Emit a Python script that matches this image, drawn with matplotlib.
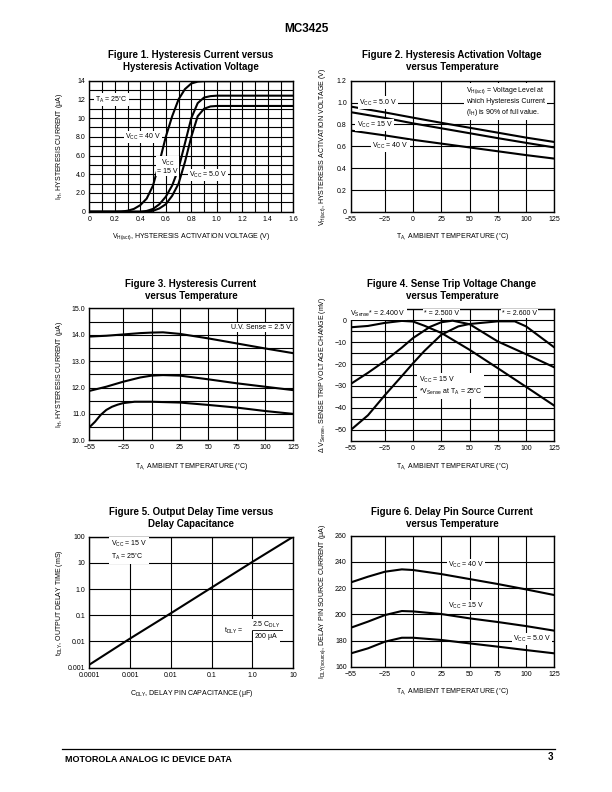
import matplotlib
matplotlib.use("Agg")
import matplotlib.pyplot as plt
from matplotlib.lines import Line2D
from matplotlib.ticker import FixedLocator

plt.rcParams['font.family'] = ['Liberation Sans', 'DejaVu Sans']
plt.rcParams['mathtext.fontset'] = 'custom'
plt.rcParams['mathtext.rm'] = 'Liberation Sans'
plt.rcParams['mathtext.it'] = 'Liberation Sans'
plt.rcParams['axes.unicode_minus'] = False

# ---------------- DATA ----------------
# Figure 1: hysteresis current vs activation voltage
f1_x40 = [0, 0.2, 0.25, 0.3, 0.35, 0.4, 0.45, 0.5, 0.55, 0.6, 0.65, 0.7, 0.75, 0.8, 0.85, 0.9, 1.0, 1.6]
f1_y40 = [0, 0, 0.02, 0.1, 0.3, 0.7, 1.4, 2.8, 5.3, 8.0, 10.2, 12.0, 13.1, 13.7, 13.9, 13.95, 13.95, 13.95]
f1_x15 = [0, 0.4, 0.45, 0.5, 0.55, 0.6, 0.65, 0.7, 0.75, 0.8, 0.85, 0.9, 0.95, 1.0, 1.6]
f1_y15 = [0, 0, 0.08, 0.3, 0.8, 1.6, 2.8, 4.6, 7.3, 10.0, 11.6, 12.2, 12.35, 12.4, 12.4]
f1_x5 = [0, 0.45, 0.5, 0.55, 0.6, 0.65, 0.7, 0.75, 0.8, 0.85, 0.9, 0.95, 1.0, 1.6]
f1_y5 = [0, 0, 0.1, 0.35, 0.8, 1.7, 3.0, 5.3, 8.0, 10.2, 11.0, 11.25, 11.3, 11.3]

# Shared temperature axis
temp = [-55, -25, 0, 25, 50, 75, 100, 125]

# Figure 2: activation voltage vs temperature
f2_v5 = [0.963, 0.91, 0.862, 0.815, 0.77, 0.725, 0.68, 0.64]
f2_v15 = [0.912, 0.86, 0.81, 0.765, 0.72, 0.675, 0.632, 0.59]
f2_v40 = [0.744, 0.70, 0.66, 0.625, 0.59, 0.555, 0.52, 0.488]

# Figure 3: hysteresis current vs temperature
f3_t_top = [-55, -40, -25, -10, 0, 10, 25, 50, 75, 100, 125]
f3_top = [13.93, 13.96, 14.01, 14.06, 14.08, 14.09, 14.03, 13.86, 13.67, 13.48, 13.30]
f3_t_mid = [-55, -40, -25, -10, 0, 10, 25, 50, 75, 100, 125]
f3_mid = [11.87, 12.03, 12.22, 12.38, 12.45, 12.47, 12.45, 12.31, 12.16, 12.03, 11.90]
f3_t_bot = [-55, -50, -45, -40, -35, -30, -25, -15, 0, 25, 50, 75, 100, 125]
f3_bot = [10.49, 10.70, 10.96, 11.15, 11.27, 11.35, 11.41, 11.46, 11.46, 11.43, 11.34, 11.24, 11.11, 11.00]

# Figure 4: sense trip voltage change vs temperature
f4_tA = [-55, -40, -25, -10, 0, 10, 25, 50, 75, 100, 125]
f4_A = [-3.2, -2.6, -1.2, -0.3, -0.6, -2.5, -5.8, -13.5, -21.9, -30.4, -39.0]
f4_tB = [-55, -40, -25, -10, 0, 15, 25, 35, 50, 75, 100, 125]
f4_B = [-29.0, -24.0, -18.6, -12.5, -8.1, -3.0, -0.9, -0.2, -1.8, -9.7, -15.5, -21.5]
f4_tC = [-55, -40, -25, -10, 0, 10, 25, 40, 50, 75, 90, 100, 112, 125]
f4_C = [-50.0, -43.4, -34.2, -25.5, -19.6, -14.0, -6.6, -2.8, -1.7, -0.5, -0.5, -2.8, -7.4, -12.4]

# Figure 5: output delay time vs delay capacitance (log-log)
f5_c = [0.0001, 0.001, 0.01, 0.1, 1.0, 10]
f5_t = [0.0013, 0.013, 0.12, 1.15, 11, 100]

# Figure 6: delay pin source current vs temperature
f6_t = [-55, -40, -25, -10, 0, 25, 50, 75, 100, 125]
f6_40 = [224.4, 228.7, 232.5, 234.3, 233.8, 230.7, 226.9, 223.1, 219.0, 214.7]
f6_15 = [189.8, 194.4, 199.4, 202.5, 202.2, 200.2, 196.9, 194.1, 191.0, 187.5]
f6_5 = [170.2, 174.0, 179.1, 182.1, 182.1, 180.4, 177.8, 175.3, 172.7, 170.2]

temp_ticks = [-55, -25, 0, 25, 50, 75, 100, 125]
temp_labels = ['\u221255', '\u221225', '0', '25', '50', '75', '100', '125']

# ---------------- FIGURE ----------------
W, H = 612, 792
fig = plt.figure(figsize=(W / 100, H / 100), dpi=100)

def make_axes(l, t, r, b):
    return fig.add_axes([l / W, 1 - b / H, (r - l) / W, (b - t) / H])

def style(ax, l, t, r, b, ylab_px, xlab_py):
    for s in ax.spines.values():
        s.set_linewidth(1.0)
        s.set_color('black')
    ax.tick_params(which='both', length=0, labelsize=5, pad=3)
    ax.grid(True, which='both', color='black', linewidth=0.8)
    ax.set_axisbelow(True)
    ax.yaxis.set_label_coords((ylab_px - l) / (r - l), 0.5)
    ax.xaxis.set_label_coords(0.5, (b - xlab_py) / (b - t))

lw = 1.5
box = dict(boxstyle='square,pad=0.15', facecolor='white', edgecolor='none')
box2 = dict(boxstyle='square,pad=0.3', facecolor='white', edgecolor='none')
fs = 5

def title(x, y, s):
    fig.text(x / W, 1 - y / H, s, ha='center', va='center', fontsize=7, fontweight='bold', linespacing=1.15)

# Figure 1
L, T, R, B = 89.3, 80.7, 293.3, 211.7
ax1 = make_axes(L, T, R, B)
ax1.plot(f1_x40, f1_y40, color='black', lw=lw)
ax1.plot(f1_x15, f1_y15, color='black', lw=lw)
ax1.plot(f1_x5, f1_y5, color='black', lw=lw)
ax1.set_xlim(0, 1.6)
ax1.set_ylim(0, 14)
ax1.set_xticks([0, 0.2, 0.4, 0.6, 0.8, 1.0, 1.2, 1.4, 1.6])
ax1.set_xticklabels(['0', '0.2', '0.4', '0.6', '0.8', '1.0', '1.2', '1.4', '1.6'])
ax1.set_yticks([0, 2, 4, 6, 8, 10, 12, 14])
ax1.set_yticklabels(['0', '2.0', '4.0', '6.0', '8.0', '10', '12', '14'])
ax1.xaxis.set_minor_locator(FixedLocator([i / 10 for i in range(17)]))
ax1.yaxis.set_minor_locator(FixedLocator(list(range(15))))
ax1.set_xlabel(r'V$_{\mathregular{H(act)}}$, HYSTERESIS ACTIVATION VOLTAGE (V)', fontsize=fs)
ax1.set_ylabel(r'I$_{\mathregular{H}}$, HYSTERESIS CURRENT ($\mathregular{\mu}$A)', fontsize=fs)
style(ax1, L, T, R, B, 65, 231)
ax1.text(0.175, 12, r'T$_{\mathregular{A}}$ = 25$\mathregular{^{\circ}}$C', fontsize=fs, ha='center', va='center', bbox=box)
ax1.text(0.42, 8.0, r'V$_{\mathregular{CC}}$ = 40 V', fontsize=fs, ha='center', va='center', bbox=box)
ax1.text(0.615, 4.8, 'V$_{\\mathregular{CC}}$\n= 15 V', fontsize=fs, ha='center', va='center', bbox=box, linespacing=1.0)
ax1.text(0.93, 3.9, r'V$_{\mathregular{CC}}$ = 5.0 V', fontsize=fs, ha='center', va='center', bbox=box)
title(191, 61, 'Figure 1. Hysteresis Current versus\nHysteresis Activation Voltage')

# Figure 2
L, T, R, B = 351, 80.7, 554.3, 212
ax2 = make_axes(L, T, R, B)
ax2.plot(temp, f2_v5, color='black', lw=lw)
ax2.plot(temp, f2_v15, color='black', lw=lw)
ax2.plot(temp, f2_v40, color='black', lw=lw)
ax2.set_xlim(-55, 125)
ax2.set_ylim(0, 1.2)
ax2.set_xticks(temp_ticks)
ax2.set_xticklabels(temp_labels)
ax2.set_yticks([0, 0.2, 0.4, 0.6, 0.8, 1.0, 1.2])
ax2.set_yticklabels(['0', '0.2', '0.4', '0.6', '0.8', '1.0', '1.2'])
ax2.set_xlabel(r'T$_{\mathregular{A,}}$ AMBIENT TEMPERATURE ($\mathregular{^{\circ}}$C)', fontsize=fs)
ax2.set_ylabel(r'V$_{\mathregular{H(act)}}$, HYSTERESIS ACTIVATION VOLTAGE (V)', fontsize=fs)
style(ax2, L, T, R, B, 328, 231)
ax2.text(-31, 1.0, r'V$_{\mathregular{CC}}$ = 5.0 V', fontsize=fs, ha='center', va='center', bbox=box)
ax2.text(-34, 0.795, r'V$_{\mathregular{CC}}$ = 15 V', fontsize=fs, ha='center', va='center', bbox=box)
ax2.text(-20, 0.603, r'V$_{\mathregular{CC}}$ = 40 V', fontsize=fs, ha='center', va='center', bbox=box)
ax2.text(47, 1.155, 'V$_{\\mathregular{H(act)}}$ = Voltage Level at\nwhich Hysteresis Current\n(I$_{\\mathregular{H}}$) is 90% of full value.',
         fontsize=fs, ha='left', va='top', bbox=box2, linespacing=1.3)
title(452, 61, 'Figure 2. Hysteresis Activation Voltage\nversus Temperature')

# Figure 3
L, T, R, B = 89.3, 308.3, 293.3, 440.3
ax3 = make_axes(L, T, R, B)
ax3.plot(f3_t_top, f3_top, color='black', lw=lw)
ax3.plot(f3_t_mid, f3_mid, color='black', lw=lw)
ax3.plot(f3_t_bot, f3_bot, color='black', lw=lw)
ax3.set_xlim(-55, 125)
ax3.set_ylim(10, 15)
ax3.set_xticks(temp_ticks)
ax3.set_xticklabels(temp_labels)
ax3.set_yticks([10, 11, 12, 13, 14, 15])
ax3.set_yticklabels(['10.0', '11.0', '12.0', '13.0', '14.0', '15.0'])
ax3.yaxis.set_minor_locator(FixedLocator([10.5, 11.5, 12.5, 13.5, 14.5]))
ax3.set_xlabel(r'T$_{\mathregular{A,}}$ AMBIENT TEMPERATURE ($\mathregular{^{\circ}}$C)', fontsize=fs)
ax3.set_ylabel(r'I$_{\mathregular{H}}$, HYSTERESIS CURRENT ($\mathregular{\mu}$A)', fontsize=fs)
style(ax3, L, T, R, B, 65, 461)
ax3.text(96, 14.27, 'U.V. Sense = 2.5 V', fontsize=fs, ha='center', va='center', bbox=box)
title(191, 290, 'Figure 3. Hysteresis Current\nversus Temperature')

# Figure 4
L, T, R, B = 351, 309.3, 554.3, 440.7
ax4 = make_axes(L, T, R, B)
ax4.plot(f4_tA, f4_A, color='black', lw=lw)
ax4.plot(f4_tB, f4_B, color='black', lw=lw)
ax4.plot(f4_tC, f4_C, color='black', lw=lw)
ax4.set_xlim(-55, 125)
ax4.set_ylim(-55, 5)
ax4.set_xticks(temp_ticks)
ax4.set_xticklabels(temp_labels)
ax4.set_yticks([0, -10, -20, -30, -40, -50])
ax4.set_yticklabels(['0', '\u221210', '\u221220', '\u221230', '\u221240', '\u221250'])
ax4.yaxis.set_minor_locator(FixedLocator([-5, -15, -25, -35, -45]))
ax4.set_xlabel(r'T$_{\mathregular{A,}}$ AMBIENT TEMPERATURE ($\mathregular{^{\circ}}$C)', fontsize=fs)
ax4.set_ylabel(r'$\mathregular{\Delta}$ V$_{\mathregular{Sense}}$, SENSE TRIP VOLTAGE CHANGE (mV)', fontsize=fs)
style(ax4, L, T, R, B, 328, 461)
ax4.text(-31, 3.0, r'V$_{\mathregular{Sense}}$* = 2.400 V', fontsize=fs, ha='center', va='center', bbox=box)
ax4.text(25, 3.0, '* = 2.500 V', fontsize=fs, ha='center', va='center', bbox=box)
ax4.text(94, 3.0, '* = 2.600 V', fontsize=fs, ha='center', va='center', bbox=box)
ax4.text(5, -30, 'V$_{\\mathregular{CC}}$ = 15 V\n*V$_{\\mathregular{Sense}}$ at T$_{\\mathregular{A}}$ = 25$\\mathregular{^{\\circ}}$C',
         fontsize=fs, ha='left', va='center', bbox=box2, linespacing=1.2)
title(452, 290, 'Figure 4. Sense Trip Voltage Change\nversus Temperature')

# Figure 5
L, T, R, B = 89.3, 536.7, 293.3, 667.7
ax5 = make_axes(L, T, R, B)
ax5.plot(f5_c, f5_t, color='black', lw=lw)
ax5.set_xscale('log')
ax5.set_yscale('log')
ax5.set_xlim(0.0001, 10)
ax5.set_ylim(0.001, 100)
ax5.set_xticks([0.0001, 0.001, 0.01, 0.1, 1, 10])
ax5.set_xticklabels(['0.0001', '0.001', '0.01', '0.1', '1.0', '10'])
ax5.set_yticks([0.001, 0.01, 0.1, 1, 10, 100])
ax5.set_yticklabels(['0.001', '0.01', '0.1', '1.0', '10', '100'])
ax5.xaxis.set_minor_locator(FixedLocator([]))
ax5.yaxis.set_minor_locator(FixedLocator([]))
ax5.set_xlabel(r'C$_{\mathregular{DLY}}$, DELAY PIN CAPACITANCE ($\mathregular{\mu}$F)', fontsize=fs)
ax5.set_ylabel(r't$_{\mathregular{DLY}}$, OUTPUT DELAY TIME (mS)', fontsize=fs)
style(ax5, L, T, R, B, 65, 688)
ax5.text(0.00034, 30, 'V$_{\\mathregular{CC}}$ = 15 V\nT$_{\\mathregular{A}}$ = 25$\\mathregular{^{\\circ}}$C',
         fontsize=fs, ha='left', va='center', bbox=box2, linespacing=1.2)
ax5.text(0.37, 0.026, r't$_{\mathregular{DLY}}$ =  ', fontsize=fs, ha='center', va='center',
         bbox=dict(boxstyle='square,pad=0.6', facecolor='white', edgecolor='none'))
ax5.text(2.2, 0.043, r'2.5 C$_{\mathregular{DLY}}$', fontsize=fs, ha='center', va='center', bbox=box)
ax5.text(2.2, 0.0155, r'200 $\mathregular{\mu}$A', fontsize=fs, ha='center', va='center', bbox=box)
ax5.add_line(Line2D([0.95, 5.2], [0.027, 0.027], color='black', lw=0.6, zorder=5))
title(191, 518, 'Figure 5. Output Delay Time versus\nDelay Capacitance')

# Figure 6
L, T, R, B = 351, 535.7, 554.3, 666.7
ax6 = make_axes(L, T, R, B)
ax6.plot(f6_t, f6_40, color='black', lw=lw)
ax6.plot(f6_t, f6_15, color='black', lw=lw)
ax6.plot(f6_t, f6_5, color='black', lw=lw)
ax6.set_xlim(-55, 125)
ax6.set_ylim(160, 260)
ax6.set_xticks(temp_ticks)
ax6.set_xticklabels(temp_labels)
ax6.set_yticks([160, 180, 200, 220, 240, 260])
ax6.set_xlabel(r'T$_{\mathregular{A,}}$ AMBIENT TEMPERATURE ($\mathregular{^{\circ}}$C)', fontsize=fs)
ax6.set_ylabel(r'I$_{\mathregular{DLY(source)}}$, DELAY PIN SOURCE CURRENT ($\mathregular{\mu}$A)', fontsize=fs)
style(ax6, L, T, R, B, 328, 686)
ax6.text(47, 237.6, r'V$_{\mathregular{CC}}$ = 40 V', fontsize=fs, ha='center', va='center', bbox=box)
ax6.text(47, 206.3, r'V$_{\mathregular{CC}}$ = 15 V', fontsize=fs, ha='center', va='center', bbox=box)
ax6.text(105, 181, r'V$_{\mathregular{CC}}$ = 5.0 V', fontsize=fs, ha='center', va='center', bbox=box)
title(452, 518, 'Figure 6. Delay Pin Source Current\nversus Temperature')

# Page header / footer
fig.text(306 / W, 1 - 29 / H, 'MC3425', ha='center', va='center', fontsize=8.5, fontweight='bold')
fig.add_artist(Line2D([62 / W, 555 / W], [1 - 749 / H, 1 - 749 / H], color='black', lw=0.9))
fig.text(65 / W, 1 - 759 / H, 'MOTOROLA ANALOG IC DEVICE DATA', ha='left', va='center', fontsize=6.5, fontweight='bold')
fig.text(553 / W, 1 - 757 / H, '3', ha='right', va='center', fontsize=7, fontweight='bold')

fig.savefig('out.png', dpi=100)
